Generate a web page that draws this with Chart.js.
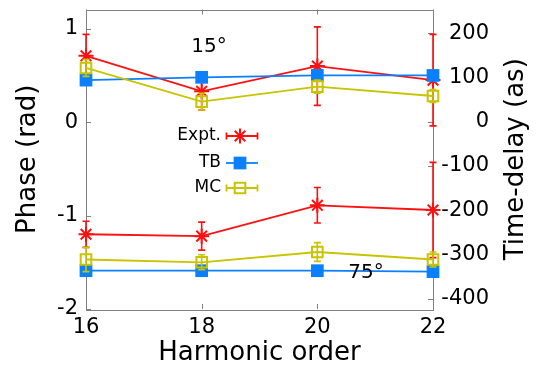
<!DOCTYPE html>
<html>
<head>
<meta charset="utf-8">
<script src="https://cdn.jsdelivr.net/npm/chart.js@4/dist/chart.umd.min.js"></script>
<style>
  html, body { margin: 0; padding: 0; background: #fff; }
  #wrap { width: 542px; height: 370px; }
</style>
</head>
<body>
<div id="wrap"><canvas id="chart" width="542" height="370"></canvas></div>
<script>
// harmonic orders on the x axis
const harmonics = [16, 18, 20, 22];

// 15 degree set (phase in rad)
const expt15 = [0.71, 0.33, 0.60, 0.45];
const expt15Err = [0.23, 0.20, 0.42, 0.49];
const tb15 = [0.45, 0.48, 0.50, 0.50];
const mc15 = [0.58, 0.22, 0.38, 0.28];
const mc15Err = [0.09, 0.09, 0.07, 0.07];

// 75 degree set
const expt75 = [-1.20, -1.22, -0.89, -0.94];
const expt75Err = [0.14, 0.15, 0.19, 0.51];
const tb75 = [-1.59, -1.59, -1.59, -1.60];
const mc75 = [-1.47, -1.50, -1.39, -1.47];
const mc75Err = [0.13, 0.08, 0.10, 0.08];

const xTicks = [16, 18, 20, 22];
const phaseTicks = [-2, -1, 0, 1];
const delayTicks = [-400, -300, -200, -100, 0, 100, 200];

const RED = '#ff1010';
const BLUE = '#0a80ff';
const YEL = '#c8c400';
const FRAME = '#808080';
const FONT = 'DejaVu Sans';

Chart.defaults.font.family = FONT;
Chart.defaults.color = '#000';

function pts(ys) {
  return harmonics.map((h, i) => ({ x: h, y: ys[i] }));
}

const seriesStyle = {
  expt: { color: RED, pointStyle: 'star', pointRadius: 7.5, order: 3 },
  tb: { color: BLUE, pointStyle: 'rect', pointRadius: 9, order: 2 },
  mc: { color: YEL, pointStyle: 'rect', pointRadius: 7.5, order: 1 }
};

function makeSet(label, kind, ys, err) {
  const s = seriesStyle[kind];
  return {
    label: label,
    data: pts(ys),
    err: err,
    kind: kind,
    yAxisID: 'y',
    borderColor: s.color,
    borderWidth: 1.8,
    pointStyle: s.pointStyle,
    pointRadius: s.pointRadius,
    pointHoverRadius: s.pointRadius,
    pointBorderColor: s.color,
    pointBackgroundColor: kind === 'mc' ? 'rgba(0,0,0,0)' : s.color,
    pointBorderWidth: kind === 'tb' ? 0 : 2,
    tension: 0,
    fill: false,
    clip: false,
    order: s.order
  };
}

// inward tick marks and the box, gnuplot style
const framePlugin = {
  id: 'frame',
  beforeDatasetsDraw(chart) {
    const { ctx, chartArea: a, scales } = chart;
    ctx.save();
    ctx.strokeStyle = FRAME;
    ctx.lineWidth = 1;
    ctx.strokeRect(Math.round(a.left) + 0.5, Math.round(a.top) + 0.5,
      Math.round(a.right - a.left), Math.round(a.bottom - a.top));
    ctx.beginPath();
    xTicks.forEach(v => {
      const x = Math.round(scales.x.getPixelForValue(v)) + 0.5;
      ctx.moveTo(x, a.bottom); ctx.lineTo(x, a.bottom - 5);
      ctx.moveTo(x, a.top); ctx.lineTo(x, a.top + 5);
    });
    phaseTicks.forEach(v => {
      const y = Math.round(scales.y.getPixelForValue(v)) + 0.5;
      ctx.moveTo(a.left, y); ctx.lineTo(a.left + 5, y);
    });
    delayTicks.forEach(v => {
      const y = Math.round(scales.y2.getPixelForValue(v)) + 0.5;
      ctx.moveTo(a.right, y); ctx.lineTo(a.right - 5, y);
    });
    ctx.stroke();
    ctx.restore();
  }
};

const errorBarPlugin = {
  id: 'errbars',
  afterDatasetDraw(chart, args) {
    const ds = chart.data.datasets[args.index];
    if (!ds.err) return;
    const { ctx } = chart;
    const ys = chart.scales.y;
    ctx.save();
    ctx.strokeStyle = ds.borderColor;
    ctx.lineWidth = 1.6;
    ctx.beginPath();
    args.meta.data.forEach((el, i) => {
      const v = ds.data[i].y;
      const e = ds.err[i];
      const y1 = ys.getPixelForValue(v + e);
      const y2 = ys.getPixelForValue(v - e);
      ctx.moveTo(el.x, y1); ctx.lineTo(el.x, y2);
      ctx.moveTo(el.x - 3.5, y1); ctx.lineTo(el.x + 3.5, y1);
      ctx.moveTo(el.x - 3.5, y2); ctx.lineTo(el.x + 3.5, y2);
    });
    ctx.stroke();
    ctx.restore();
  }
};

const legendItems = [
  { text: 'Expt.', kind: 'expt', y: 136 },
  { text: 'TB', kind: 'tb', y: 163 },
  { text: 'MC', kind: 'mc', y: 188 }
];

const textPlugin = {
  id: 'texts',
  afterDraw(chart) {
    const { ctx, chartArea: a } = chart;
    ctx.save();
    // key
    legendItems.forEach(it => {
      const s = seriesStyle[it.kind];
      ctx.fillStyle = '#000';
      ctx.font = '17px "' + FONT + '"';
      ctx.textAlign = 'right';
      ctx.textBaseline = 'middle';
      ctx.fillText(it.text, 221, it.y);
      ctx.strokeStyle = s.color;
      ctx.lineWidth = 1.8;
      ctx.beginPath();
      ctx.moveTo(226, it.y); ctx.lineTo(258, it.y);
      if (it.kind !== 'tb') {
        ctx.moveTo(226.5, it.y - 3.5); ctx.lineTo(226.5, it.y + 3.5);
        ctx.moveTo(257.5, it.y - 3.5); ctx.lineTo(257.5, it.y + 3.5);
      }
      ctx.stroke();
      ctx.fillStyle = it.kind === 'mc' ? 'rgba(0,0,0,0)' : s.color;
      ctx.lineWidth = it.kind === 'tb' ? 0 : 2;
      Chart.helpers.drawPoint(ctx, {
        pointStyle: s.pointStyle, radius: s.pointRadius, rotation: 0,
        borderWidth: it.kind === 'tb' ? 0 : 2
      }, 240, it.y);
    });
    // angle labels
    ctx.fillStyle = '#000';
    ctx.font = '20px "' + FONT + '"';
    ctx.textAlign = 'center';
    ctx.textBaseline = 'middle';
    ctx.fillText('15°', 209, 47);
    ctx.fillText('75°', 366, 273);
    // right axis title, reading upward
    ctx.font = '26px "' + FONT + '"';
    ctx.translate(516, (a.top + a.bottom) / 2);
    ctx.rotate(-Math.PI / 2);
    ctx.fillText('Time-delay (as)', 0, 0);
    ctx.restore();
  }
};

function noLabelPad(s) {
  s.paddingTop = 0;
  s.paddingBottom = 0;
}

new Chart(document.getElementById('chart'), {
  type: 'line',
  data: {
    datasets: [
      makeSet('Expt.', 'expt', expt15, expt15Err),
      makeSet('TB', 'tb', tb15, null),
      makeSet('MC', 'mc', mc15, mc15Err),
      makeSet('Expt. 75', 'expt', expt75, expt75Err),
      makeSet('TB 75', 'tb', tb75, null),
      makeSet('MC 75', 'mc', mc75, mc75Err)
    ]
  },
  options: {
    responsive: false,
    animation: false,
    devicePixelRatio: 1,
    layout: { padding: { top: 6, left: 0, right: 53, bottom: 0 } },
    plugins: { legend: { display: false }, tooltip: { enabled: false } },
    scales: {
      x: {
        type: 'linear',
        min: 16, max: 22,
        afterBuildTicks: s => { s.ticks = xTicks.map(v => ({ value: v })); },
        afterFit: s => { s.height = 61; s.paddingLeft = 0; s.paddingRight = 0; },
        grid: { display: false, drawTicks: false },
        border: { display: false },
        ticks: { font: { size: 21 }, color: '#000', padding: 6, autoSkip: false, maxRotation: 0 },
        title: { display: true, text: 'Harmonic order', font: { size: 26 }, color: '#000', padding: { top: 0, bottom: 1 } }
      },
      y: {
        position: 'left',
        min: -2, max: 1.206,
        afterBuildTicks: s => { s.ticks = phaseTicks.map(v => ({ value: v })); },
        afterFit: s => { s.width = 86; noLabelPad(s); },
        grid: { display: false, drawTicks: false },
        border: { display: false },
        ticks: { font: { size: 21 }, color: '#000', padding: 8 },
        title: { display: true, text: 'Phase (rad)', font: { size: 26 }, color: '#000', padding: { top: 13, bottom: 0 } }
      },
      y2: {
        position: 'right',
        min: -423.5, max: 253.6,
        afterBuildTicks: s => { s.ticks = delayTicks.map(v => ({ value: v })); },
        afterFit: s => { s.width = 56; noLabelPad(s); },
        grid: { display: false, drawTicks: false },
        border: { display: false },
        ticks: { font: { size: 21 }, color: '#000', padding: 6, crossAlign: 'far' }
      }
    }
  },
  plugins: [framePlugin, errorBarPlugin, textPlugin]
});
</script>
</body>
</html>
